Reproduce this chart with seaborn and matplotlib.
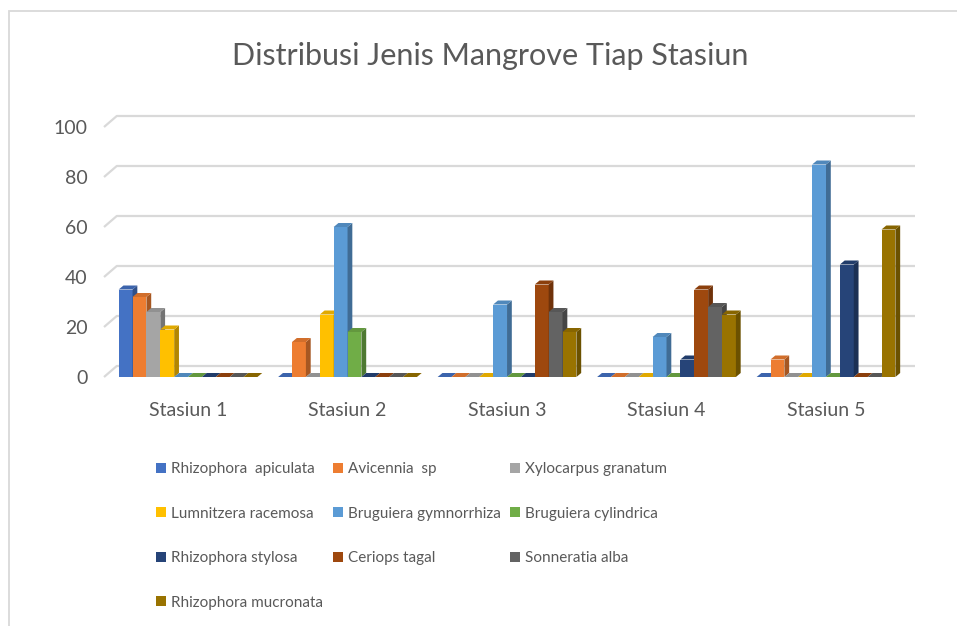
import matplotlib.pyplot as plt
import seaborn as sns
import numpy as np
import pandas as pd
from matplotlib.patches import Polygon, Rectangle, Patch
from matplotlib.colors import to_rgb

stations = ['Stasiun 1', 'Stasiun 2', 'Stasiun 3', 'Stasiun 4', 'Stasiun 5']
species = ['Rhizophora  apiculata', 'Avicennia  sp', 'Xylocarpus granatum',
           'Lumnitzera racemosa', 'Bruguiera gymnorrhiza', 'Bruguiera cylindrica',
           'Rhizophora stylosa', 'Ceriops tagal', 'Sonneratia alba',
           'Rhizophora mucronata']
rh_apiculata = [35, 0, 0, 0, 0]
avicennia = [32, 14, 0, 0, 7]
xylocarpus = [26, 0, 0, 0, 0]
lumnitzera = [19, 25, 0, 0, 0]
br_gymnorrhiza = [0, 60, 29, 16, 85]
br_cylindrica = [0, 18, 0, 0, 0]
rh_stylosa = [0, 0, 0, 7, 45]
ceriops = [0, 0, 37, 35, 0]
sonneratia = [0, 0, 26, 28, 0]
rh_mucronata = [0, 0, 18, 25, 59]
colors = ['#4472C4', '#ED7D31', '#A5A5A5', '#FFC000', '#5B9BD5', '#70AD47',
          '#264478', '#9E480E', '#636363', '#997300']
yticks = [0, 20, 40, 60, 80, 100]

series = [rh_apiculata, avicennia, xylocarpus, lumnitzera, br_gymnorrhiza,
          br_cylindrica, rh_stylosa, ceriops, sonneratia, rh_mucronata]
rows = []
for sp, vals in zip(species, series):
    for st, v in zip(stations, vals):
        rows.append({'station': st, 'species': sp, 'value': v})
df = pd.DataFrame(rows)

sns.set_theme(style='white')
plt.rcParams['font.family'] = ['Lato', 'DejaVu Sans']
txt = '#595959'
grid_c = '#D9D9D9'

W, H = 957, 626
fig = plt.figure(figsize=(W / 100, H / 100), dpi=100)
ax = fig.add_axes([104 / W, 1 - 377 / H, 811 / W, 250 / H])

sns.barplot(data=df, x='station', y='value', hue='species', hue_order=species,
            palette=colors, saturation=1, width=0.87, errorbar=None,
            legend=False, ax=ax)

x0, x1 = -0.527, 4.558
ax.set_xlim(x0, x1)
ax.set_ylim(0, 100)

# back wall gridlines with a short diagonal on the left (fake 3D)
gdx, gdy = 0.08, 4.4
for v in yticks:
    ax.plot([x0, x0 + gdx, x1], [v, v + gdy, v + gdy], color=grid_c, lw=1.6,
            zorder=0.5, clip_on=False, solid_capstyle='butt')

# fake 3D depth for the bars
dx, dy = 0.03, 1.6
bars = sorted(ax.patches, key=lambda p: p.get_x())
for i, p in enumerate(bars):
    z = 2 + i * 0.01
    p.set_zorder(z)
    p.set_linewidth(0)
    c = np.array(to_rgb(p.get_facecolor()))
    bx, bw, bh = p.get_x(), p.get_width(), p.get_height()
    side = Polygon([(bx + bw, 0), (bx + bw + dx, dy), (bx + bw + dx, bh + dy), (bx + bw, bh)],
                   closed=True, facecolor=c * 0.7, edgecolor='none', zorder=z + 0.005)
    top = Polygon([(bx, bh), (bx + dx, bh + dy), (bx + bw + dx, bh + dy), (bx + bw, bh)],
                  closed=True, facecolor=c * 0.88, edgecolor='none', zorder=z + 0.005)
    ax.add_patch(side)
    ax.add_patch(top)

for s in ax.spines.values():
    s.set_visible(False)
ax.set_yticks(yticks)
ax.set_xlabel('')
ax.set_ylabel('')
ax.tick_params(axis='y', length=0, pad=12, labelsize=14, labelcolor=txt)
ax.tick_params(axis='x', length=0, pad=18, labelsize=14, labelcolor=txt)

fig.text(490 / W, 1 - 56 / H, 'Distribusi Jenis Mangrove Tiap Stasiun',
         ha='center', va='center', fontsize=22, color=txt)

# legend laid out row by row in three columns, like the original
col_x = [156, 333, 510]
for c, cx in enumerate(col_x):
    idx = list(range(c, len(species), 3))
    handles = [Patch(facecolor=colors[k], edgecolor='none', label=species[k]) for k in idx]
    fig.legend(handles=handles, loc='upper left', bbox_to_anchor=(cx / W, 1 - 462 / H),
               ncol=1, frameon=False, labelcolor=txt, fontsize=11,
               handlelength=0.65, handleheight=0.65, handletextpad=0.3,
               labelspacing=2.0, borderaxespad=0, borderpad=0)

fig.add_artist(Rectangle((9 / W, -0.05), 1.2, 1 - 11 / H + 0.05, transform=fig.transFigure,
                         fill=False, edgecolor=grid_c, lw=1.3))

fig.savefig('out.png', dpi=100)
